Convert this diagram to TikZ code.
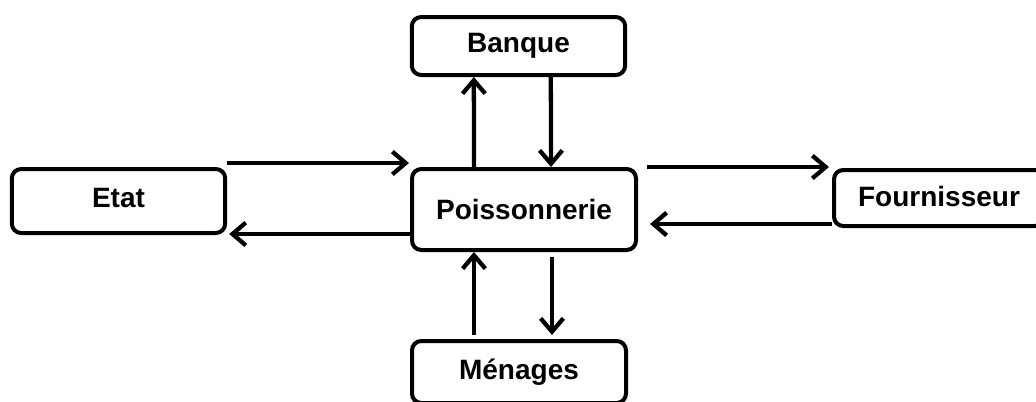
\documentclass[tikz,border=0pt]{standalone}
\usepackage{fontspec}
\setmainfont{Liberation Sans}
\usetikzlibrary{arrows.meta,calc}

\begin{document}
\begin{tikzpicture}[x=0.75pt,y=-0.75pt,>={Straight Barb[length=10pt,width=17pt]},
  box/.style={draw,line width=3pt,rounded corners=7pt,fill=white,font=\fontsize{21}{24}\selectfont\bfseries,inner sep=0pt},
  arr/.style={->,line width=3.2pt}]

\useasboundingbox (0,0) rectangle (1036,401);
\clip (0,0) rectangle (1036,401);

%% the five actors
\node[box,minimum width=160pt,minimum height=43.5pt] (banque) at (518.5,46) {Banque};
\node[box,minimum width=160pt,minimum height=48pt] (etat) at (118.5,201) {\raisebox{5pt}{Etat}};
\node[box,minimum width=168pt,minimum height=60.75pt] (poiss) at (524,209.5) {Poissonnerie};
\node[box,minimum width=157.5pt,minimum height=42pt] (fourn) at (939,198) {\raisebox{2pt}{Fournisseur}};
\node[box,minimum width=160.5pt,minimum height=46.5pt] (menages) at (519,372) {\raisebox{2pt}{Ménages}};

%% flows with the state
\draw[arr] ($(etat.north east)+(0,-4)$) -- ($(poiss.north west)+(-1,-4)$);
\draw[arr] ($(etat.south east -| poiss.west)+(0,-1)$) -- ($(etat.south east)+(2,-1)$);

%% flows with the supplier
\draw[arr] ($(poiss.east |- fourn.north west)+(9,-1)$) -- ($(fourn.north west)+(-3,-1)$);
\draw[arr] ($(fourn.south west)+(0,-4)$) -- ($(poiss.east |- fourn.south west)+(12,-4)$);

%% flows with the bank
\draw[arr] ($(poiss.north west)+(64,0)$) -- ($(banque.south west)+(64,0)$);
\draw[arr] ($(banque.south west)+(141,0)$) -- ($(poiss.north west)+(141,0)$);

%% flows with the households
\draw[arr] ($(menages.north west)+(64,-4)$) -- ($(poiss.south west)+(64,0)$);
\draw[arr] ($(poiss.south west)+(142,5)$) -- ($(menages.north west)+(142,-4)$);
\end{tikzpicture}
\end{document}
